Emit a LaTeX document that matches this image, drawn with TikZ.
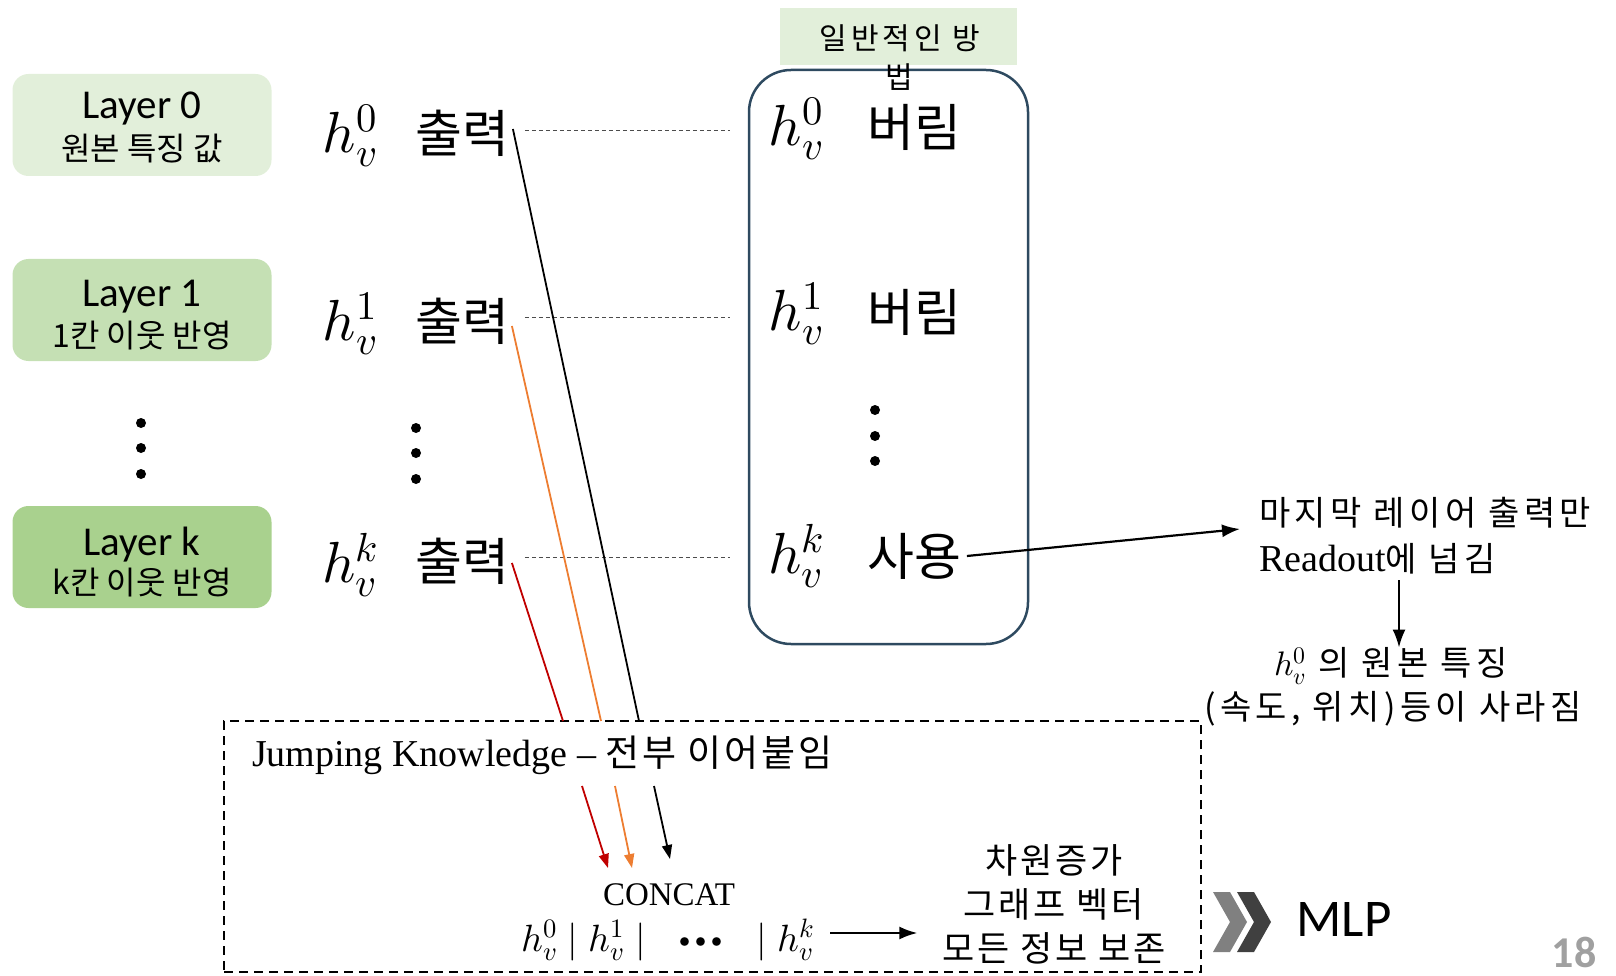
\documentclass[tikz,border=0pt]{standalone}
\usepackage{fontspec}
\usepackage{unicode-math}
\setmathfont{Latin Modern Math}
\setmainfont{Carlito}
\newfontfamily\krf{Noto Sans CJK KR}
\newfontfamily\krl[LetterSpace=13]{Noto Sans CJK KR}
\newfontfamily\krm[LetterSpace=8]{Noto Sans CJK KR}
\newfontfamily\srf{Liberation Serif}
\usetikzlibrary{arrows.meta}
\definecolor{gA}{HTML}{E2EFDA}
\definecolor{gB}{HTML}{C5E0B4}
\definecolor{gC}{HTML}{A9D18E}
\definecolor{frm}{HTML}{2E4A60}
\definecolor{jred}{HTML}{C00000}
\definecolor{jorg}{HTML}{ED7D31}
\definecolor{chA}{HTML}{808080}
\definecolor{chB}{HTML}{404040}
\definecolor{pg}{HTML}{A0A0A0}
\newcommand\fsz[1]{\fontsize{#1}{#1}\selectfont}
\begin{document}
\begin{tikzpicture}[x=1pt,y=-1pt,
 tx/.style={inner sep=0pt, outer sep=0pt},
 lbox/.style={rounded corners=16pt, minimum width=259pt, minimum height=102pt, inner sep=0pt},
 laytxt/.style={tx, font=\fsz{41}},
 laykr/.style={tx, font=\krf\fsz{32}},
 hbig/.style={tx, font=\fsz{58}},
 kbig/.style={tx, font=\krf\fsz{51}},
 dotc/.style={fill=black, circle, inner sep=0pt, minimum size=10pt},
 guide/.style={dash pattern=on 4pt off 3pt, line width=0.9pt, black!70},
 feed/.style={line width=1.8pt},
 tipA/.style={-{Triangle[length=14pt,width=10pt]}},
 tipB/.style={line width=2.2pt, -{Latex[length=18pt,width=13pt]}},
 sidekr/.style={tx, font=\krl\fsz{34}}
]
\useasboundingbox (0,0) rectangle (1616,976);

% left layer boxes
\node[lbox, fill=gA] (B0) at (142,125) {};
\node[laytxt] (B0a) at (142,109) {Layer 0};
\node[laykr] (B0b) at (142,149) {원본 특징 값};
\node[lbox, fill=gB] (B1) at (142,310) {};
\node[laytxt] (B1a) at (142,297) {Layer 1};
\node[laykr] (B1b) at (142,336) {1칸 이웃 반영};
\node[lbox, fill=gC] (Bk) at (142,557) {};
\node[laytxt] (Bka) at (142,545) {Layer k};
\node[laykr] (Bkb) at (142,583) {k칸 이웃 반영};

% vertical dots
\node[dotc] (ld1) at (141,423) {};
\node[dotc] (ld2) at (141,448) {};
\node[dotc] (ld3) at (141,474) {};
\node[dotc] (md1) at (416,428) {};
\node[dotc] (md2) at (416,453) {};
\node[dotc] (md3) at (416,479) {};
\node[dotc] (gd1) at (875,410) {};
\node[dotc] (gd2) at (875,436) {};
\node[dotc] (gd3) at (875,461) {};

% outputs
\node[hbig] (h0) at (350,136) {$h_v^0$};
\node[kbig] (o0) at (462,133) {출력};
\node[hbig] (h1) at (350,324) {$h_v^1$};
\node[kbig] (o1) at (462,321) {출력};
\node[hbig] (hk) at (350,565) {$h_v^k$};
\node[kbig] (ok) at (462,561) {출력};

% general method frame
\node[draw=frm, line width=2.5pt, rounded corners=42pt, minimum width=279pt, minimum height=574pt, inner sep=0pt] (gen) at (888.5,357) {};
\node[fill=gA, minimum width=237pt, minimum height=57pt, inner sep=0pt] (gt) at (898.5,36.5) {};
\node[tx, font=\krl\fsz{30}] (gt1) at (900,38) {일반적인 방};
\node[tx, font=\krl\fsz{30}] (gt2) at (899,77) {법};

\node[hbig] (g0) at (796,129) {$h_v^0$};
\node[kbig] (r0) at (914,127) {버림};
\node[hbig] (g1) at (796,314) {$h_v^1$};
\node[kbig] (r1) at (914,312) {버림};
\node[hbig] (gk) at (796,556) {$h_v^k$};
\node[kbig] (sk) at (914,556) {사용};

% guide lines
\coordinate (e0) at (730,130);
\coordinate (e1) at (730,317);
\coordinate (ek) at (730,557);
\draw[guide] ([xshift=16pt]o0.east |- e0) -- (e0);
\draw[guide] ([xshift=16pt]o1.east |- e1) -- (e1);
\draw[guide] ([xshift=16pt]ok.east |- ek) -- (ek);

% jumping knowledge box
\node[draw, line width=2pt, dash pattern=on 9pt off 6pt, minimum width=977pt, minimum height=251pt, inner sep=0pt] (jk) at (712.5,846.5) {};
\node[tx, anchor=west] (jkt) at (252,755) {{\srf\fsz{38}Jumping Knowledge – }{\krm\fsz{37}전부 이어붙임}};

% feeds from outputs
\coordinate (t0) at (639,721);
\coordinate (t1) at (601,721);
\coordinate (tk) at (563,721);
\draw[feed, black] ([xshift=4pt,yshift=4pt]o0.east) -- (t0);
\draw[feed, jorg] ([xshift=3pt,yshift=-5pt]o1.east) -- (t1);
\draw[feed, jred] ([xshift=3pt,yshift=-2pt]ok.east) -- (tk);

% arrows into concat
\coordinate (ra) at (582,786); \coordinate (rb) at (608,868);
\coordinate (oa) at (615,786); \coordinate (ob) at (632,868);
\coordinate (ba) at (654,786); \coordinate (bb) at (670,859);
\draw[feed, jred, tipA] (ra) -- (rb);
\draw[feed, jorg, tipA] (oa) -- (ob);
\draw[feed, black, tipA] (ba) -- (bb);

\node[tx, font=\srf\fsz{33}] (cc) at (669,895) {CONCAT};
\node[tx, font=\fsz{38}] (fm) at (668,940) {$h_v^0\;|\;h_v^1\;|$\hspace{34pt}\raisebox{4pt}{\fsz{22}$\bullet\bullet\bullet$}\hspace{34pt}$|\;h_v^k$};
\node[tx, font=\krm\fontsize{35}{44}\selectfont, align=center] (blk) at (1054,904) {차원증가\\그래프 벡터\\모든 정보 보존};
\draw[tipB] ([xshift=16pt,yshift=7pt]fm.east) -- ++(87,0);

% readout side
\coordinate (ae) at (1240,529);
\draw[tipB] ([xshift=6pt]sk.east) -- (ae);
\node[sidekr, anchor=west] (m1) at (1259,513) {마지막 레이어 출력만};
\node[tx, anchor=west] (m2) at (1259,559) {{\srf\fsz{38}Readout}{\krl\fsz{34}에 넘김}};
\node[sidekr] (m3) at (1391,666) {$h_v^0$ 의 원본 특징};
\node[sidekr] (m4) at (1393,709) {(속도, 위치)등이 사라짐};
\coordinate (da) at (1399,580);
\draw[tipB] (da) -- (da |- m3.north);

% MLP
\fill[chA] (1213,892) -- (1230,892) -- (1247,922) -- (1230,952) -- (1213,952) -- (1230,922) -- cycle;
\fill[chB] (1237,892) -- (1254,892) -- (1271,922) -- (1254,952) -- (1237,952) -- (1254,922) -- cycle;
\node[tx, font=\fsz{53}] (mlp) at (1344,919) {MLP};
\node[tx, font=\bfseries\fsz{44}, text=pg] (pn) at (1574,952) {18};
\end{tikzpicture}
\end{document}
